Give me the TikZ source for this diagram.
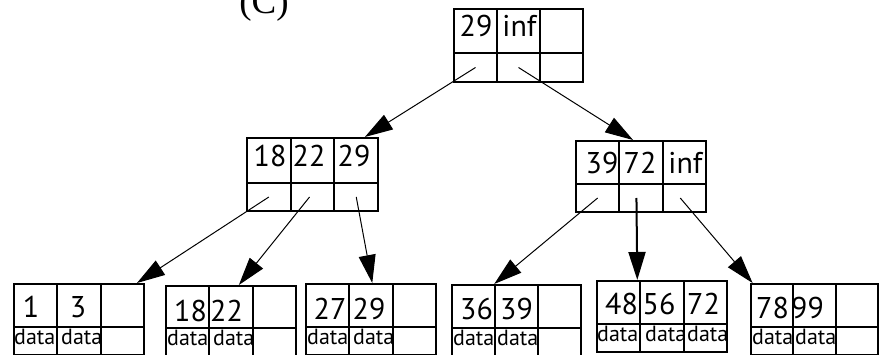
\documentclass[tikz,border=0pt]{standalone}
\usepackage{fontspec}
\setmainfont{PT Sans}
\newfontfamily\labelfont{Liberation Serif}
\usetikzlibrary{arrows.meta,calc}
\tikzset{
  cell/.style={draw, line width=2pt, inner sep=0pt, anchor=north west},
  num/.style={inner sep=0pt, anchor=base, font=\fontsize{30}{30}\selectfont},
  dat/.style={inner sep=0pt, anchor=base west, font=\fontsize{22}{22}\selectfont},
  link/.style={line width=1pt, -{Triangle[length=28pt,width=17pt]}},
  thick link/.style={line width=2pt, -{Triangle[length=28pt,width=17pt]}}
}
% name, left, top, column width, top-row height, bottom-row height
\newcommand\btreenode[6]{%
  \foreach \i in {1,2,3}{%
    \node[cell, minimum width=#4pt, minimum height=#5pt] (#1-t\i) at ({#2+(\i-1)*#4},#3) {};
    \node[cell, minimum width=#4pt, minimum height=#6pt] (#1-b\i) at ({#2+(\i-1)*#4},{#3+#5}) {};
  }%
}
\begin{document}
\begin{tikzpicture}[x=1pt,y=-1pt]
\useasboundingbox (0,0) rectangle (884,355);
\begin{scope}
\clip (0,0) rectangle (884,355);
\node[inner sep=0pt, anchor=base, font=\labelfont\fontsize{37}{37}\selectfont] (lbl) at (264,14) {(C)};

% root
\btreenode{R}{453}{8}{43}{44}{29}
\node[num] (R-n1) at (476,37) {29};
\node[num] (R-n2) at (519.5,37) {inf};

% middle left
\btreenode{ML}{246}{137}{43.7}{45}{28}
\node[num] (ML-n1) at (270,167) {18};
\node[num] (ML-n2) at (309,167) {22};
\node[num] (ML-n3) at (354,167) {29};

% middle right
\btreenode{MR}{575}{140}{43.3}{43}{28}
\node[num] (MR-n1) at (602,174) {39};
\node[num] (MR-n2) at (640,174) {72};
\node[num] (MR-n3) at (685.5,174) {inf};

% leaves
\btreenode{LA}{13}{283}{43.3}{43}{28}
\node[num] (LA-n1) at (31,318) {1};
\node[num] (LA-n2) at (78,318) {3};
\node[dat] (LA-d1) at (14,345) {data};
\node[dat] (LA-d2) at (61,345) {data};

\btreenode{LB}{165}{285}{43.3}{42}{28}
\node[num] (LB-n1) at (190.5,322) {18};
\node[num] (LB-n2) at (226.5,322) {22};
\node[dat] (LB-d1) at (167,346) {data};
\node[dat] (LB-d2) at (213,346) {data};

\btreenode{LC}{305}{283}{43.3}{43}{28}
\node[num] (LC-n1) at (330,320) {27};
\node[num] (LC-n2) at (369,320) {29};
\node[dat] (LC-d1) at (307,345) {data};
\node[dat] (LC-d2) at (353,345) {data};

\btreenode{LD}{451}{284}{43}{43}{28}
\node[num] (LD-n1) at (476.5,320) {36};
\node[num] (LD-n2) at (516.5,320) {39};
\node[dat] (LD-d1) at (453,346) {data};
\node[dat] (LD-d2) at (497,346) {data};

\btreenode{LE}{596}{280}{43.3}{43}{28}
\node[num] (LE-n1) at (621.5,315) {48};
\node[num] (LE-n2) at (659,315) {56};
\node[num] (LE-n3) at (703.5,315) {72};
\node[dat] (LE-d1) at (597,342) {data};
\node[dat] (LE-d2) at (645,342) {data};
\node[dat] (LE-d3) at (687,342) {data};

\btreenode{LF}{750}{283}{42.3}{43}{28}
\node[num] (LF-n1) at (772.5,319) {78};
\node[num] (LF-n2) at (807.5,319) {99};
\node[dat] (LF-d1) at (752,345) {data};
\node[dat] (LF-d2) at (795,345) {data};

% connectors
\draw[link] (R-b1.center) -- ($(ML-t1.north west)!0.893!(ML-t3.north east)$);
\draw[link] (R-b2.center) -- ($(MR-t1.north west)!0.44!(MR-t3.north east)$);

\draw[link] (ML-b1.center) -- ($(LA-t1.north west)!0.94!(LA-t3.north east)$);
\draw[link] ([xshift=-3pt]ML-b2.center) -- ($(LB-t1.north west)!0.56!(LB-t3.north east)$);
\draw[link] (ML-b3.center) -- ($(LC-t1.north west)!0.51!(LC-t3.north east)$);

\draw[link] (MR-b1.center) -- ($(LD-t1.north west)!0.33!(LD-t3.north east)$);
\draw[thick link] ([xshift=-4.5pt]MR-b2.center) -- ([xshift=-4pt]LE-t1.north east);
\draw[link] ([xshift=-4pt]MR-b3.center) -- ($(LF-t1.north west)!0.02!(LF-t3.north east)$);
\end{scope}
\end{tikzpicture}
\end{document}
